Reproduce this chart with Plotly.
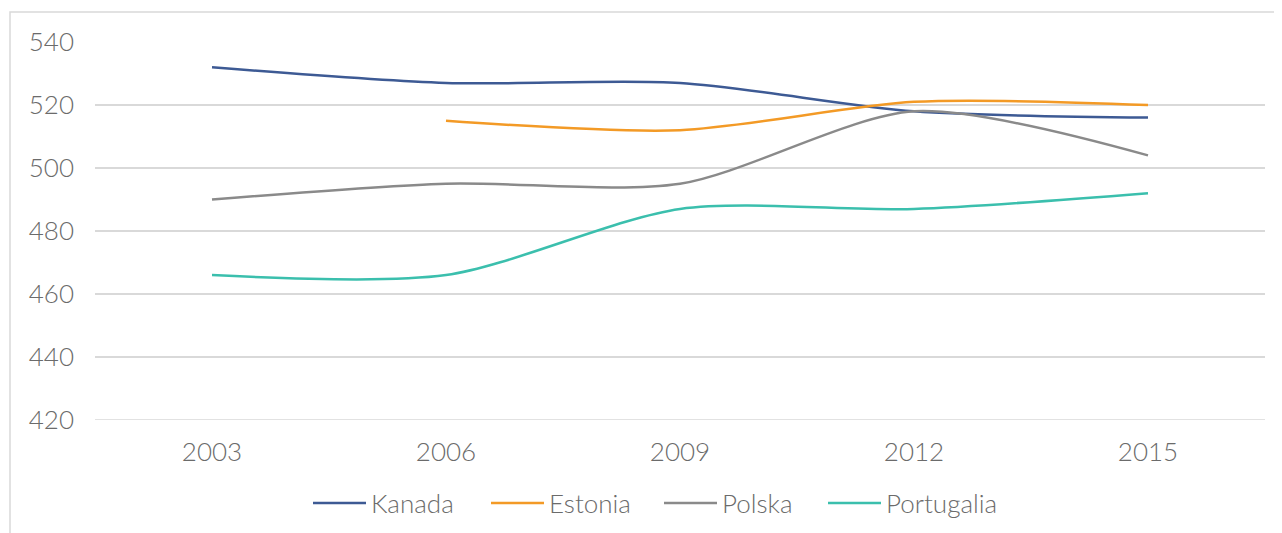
import plotly.graph_objects as go

years = ["2003", "2006", "2009", "2012", "2015"]
kanada = [532, 527, 527, 518, 516]
estonia = [None, 515, 512, 521, 520]
polska = [490, 495, 495, 518, 504]
portugalia = [466, 466, 487, 487, 492]

names = ["Kanada", "Estonia", "Polska", "Portugalia"]
colors = ["#3d5a94", "#f39a26", "#8a8a8a", "#3bbfad"]
values = [kanada, estonia, polska, portugalia]

FONT = "Lato"
TXT = "#6b6b6b"
OFF = 8  # page body margin
W, H = 1282, 533
L, R, T, B = 95 - OFF, 17 + OFF, 42 - OFF, 113 + OFF
PW, PH = W - L - R, H - T - B


def px_x(x):
    return (x - OFF - L) / PW


def px_y(y):
    return (H - B - (y - OFF)) / PH


fig = go.Figure()
for name, vals, col in zip(names, values, colors):
    fig.add_trace(go.Scatter(
        x=years, y=vals, name=name, mode="lines",
        line=dict(color=col, width=2.5, shape="spline", smoothing=0.8),
        connectgaps=False, showlegend=False,
    ))

leg_line_x = [313, 491, 664, 828]
leg_y = 503
shapes = [dict(type="rect", xref="paper", yref="paper",
               x0=px_x(10), x1=1.2, y0=-0.6, y1=px_y(12),
               line=dict(color="#d9d9d9", width=1.5), fillcolor="rgba(0,0,0,0)",
               layer="below"),
          dict(type="line", xref="paper", yref="y", x0=0, x1=1, y0=420, y1=420,
               line=dict(color="#d9d9d9", width=1.5), layer="below")]
annotations = []
for lx, name, col in zip(leg_line_x, names, colors):
    shapes.append(dict(type="line", xref="paper", yref="paper",
                       x0=px_x(lx), x1=px_x(lx + 53), y0=px_y(leg_y), y1=px_y(leg_y),
                       line=dict(color=col, width=2.5)))
    annotations.append(dict(xref="paper", yref="paper", x=px_x(lx + 56), y=px_y(leg_y),
                            xanchor="left", yanchor="middle", text=name, showarrow=False,
                            font=dict(family=FONT, size=26, color=TXT, weight=300)))

fig.update_layout(
    width=W, height=H,
    margin=dict(l=L, r=R, t=T, b=B, autoexpand=False),
    paper_bgcolor="white", plot_bgcolor="white",
    font=dict(family=FONT, size=26, color=TXT, weight=300),
    showlegend=False,
    xaxis=dict(type="category", range=[-0.5, 4.5], showgrid=False, zeroline=False,
               showline=False, ticks="outside", ticklen=9, tickcolor="rgba(0,0,0,0)",
               automargin=False,
               tickfont=dict(family=FONT, size=26, color=TXT, weight=300)),
    yaxis=dict(range=[420, 540], dtick=20, tick0=420, showgrid=True, gridcolor="#d9d9d9",
               gridwidth=1.5, zeroline=False, showline=False, ticks="", automargin=False,
               tickfont=dict(family=FONT, size=26, color=TXT, weight=300),
               ticklabelstandoff=20),
    shapes=shapes,
    annotations=annotations,
)
fig.write_html("out.html")
